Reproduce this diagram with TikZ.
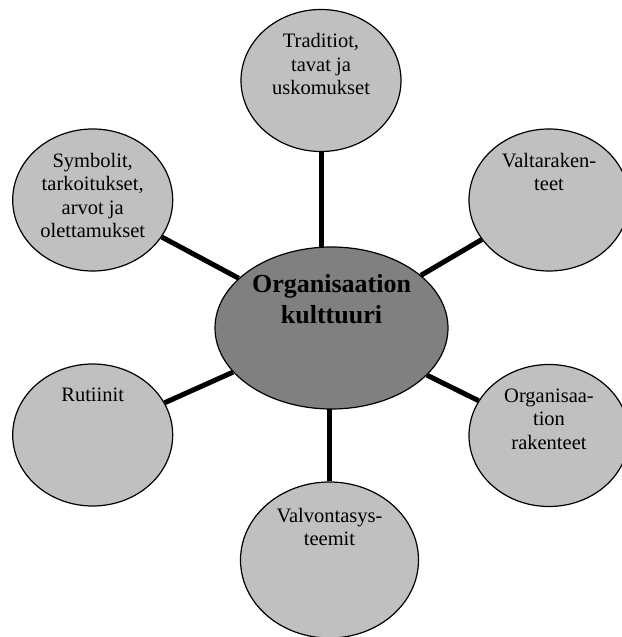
\documentclass[tikz,border=0pt]{standalone}
\usepackage{fontspec}
\setmainfont{Liberation Serif}
\usepackage{tikz}
\usetikzlibrary{positioning,shapes.geometric,backgrounds}
\definecolor{bubgray}{HTML}{C0C0C0}
\definecolor{coregray}{HTML}{808080}

\begin{document}
\begin{tikzpicture}[x=1pt,y=1pt,
  bub/.style={ellipse,draw=black,line width=1.2pt,fill=bubgray,minimum width=160pt,minimum height=142pt,inner sep=0pt},
  txt/.style={font=\fontsize{20.5}{23.5}\selectfont,align=center,inner sep=0pt},
  spoke/.style={line width=5pt}]
\useasboundingbox (0,0) rectangle (621,637);
% ---- centre ellipse ----
\node[bub,fill=coregray,minimum width=233pt,minimum height=162pt] (kult) at (331.5,309) {};
\node[font=\fontsize{26}{31}\selectfont\bfseries,align=center,inner sep=0pt,below=28pt of kult.north] (kult-t) {Organisaation\\kulttuuri};
% ---- satellites ----
\node[bub] (trad) at (321,556.5) {};
\node[bub] (symb) at (92.7,437) {};
\node[bub] (valta) at (549,437) {};
\node[bub] (rut) at (92.7,202) {};
\node[bub] (orak) at (549,201.5) {};
\node[bub,minimum width=178pt,minimum height=156pt] (valv) at (329.5,560-483) {};
\node[txt,below=24.5pt of trad.north] (trad-t) {Traditiot,\\tavat ja\\uskomukset};
\node[txt,below=24.5pt of symb.north] (symb-t) {Symbolit,\\tarkoitukset,\\arvot ja\\olettamukset};
\node[txt,below=24.5pt of valta.north] (valta-t) {Valtaraken-\\teet};
\node[txt,below=24.5pt of rut.north] (rut-t) {Rutiinit};
\node[txt,below=24.5pt of orak.north] (orak-t) {Organisaa-\\tion\\rakenteet};
\node[txt,below=26.5pt of valv.north] (valv-t) {Valvontasys-\\teemit};
% ---- spokes (behind the bubbles) ----
\begin{scope}[on background layer]
\draw[spoke] (trad) -- (trad |- kult);
\draw[spoke] (symb) -- (kult);
\draw[spoke] (valta) -- (kult);
\draw[spoke] (rut) -- (kult);
\draw[spoke] (orak) -- (kult);
\draw[spoke] (valv) -- (valv |- kult);
\end{scope}
\end{tikzpicture}
\end{document}
